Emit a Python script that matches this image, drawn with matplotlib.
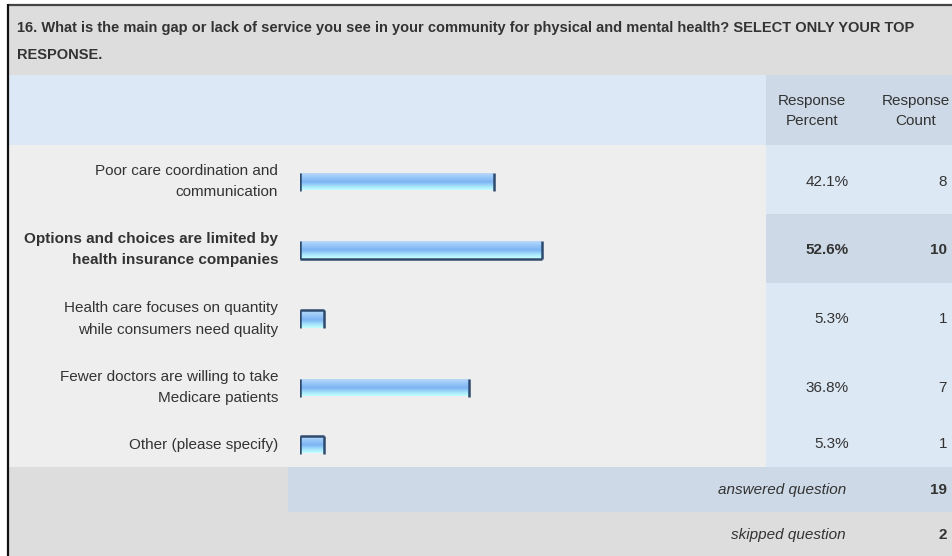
import matplotlib
matplotlib.use("Agg")
import matplotlib.pyplot as plt
from matplotlib.colors import LinearSegmentedColormap
import numpy as np

# ---------------- data ----------------
question = ("16. What is the main gap or lack of service you see in your community for physical and mental health? "
            "SELECT ONLY YOUR TOP\nRESPONSE.")
categories = [
    "Poor care coordination and\ncommunication",
    "Options and choices are limited by\nhealth insurance companies",
    "Health care focuses on quantity\nwhile consumers need quality",
    "Fewer doctors are willing to take\nMedicare patients",
    "Other (please specify)",
]
percents = [42.1, 52.6, 5.3, 36.8, 5.3]
counts = [8, 10, 1, 7, 1]
answered = 19
skipped = 2
header_pct = "Response\nPercent"
header_cnt = "Response\nCount"

# ---------------- layout (pixels) ----------------
W, H = 952, 556
FONT = "Liberation Sans"
TXT = "#333333"
FS = 11
row_tops = [145, 214, 283, 352, 421]
row_bots = [214, 283, 352, 421, 467]
row_centers = [181.5, 249.5, 319, 387.5, 444.5]
max_idx = int(np.argmax(percents))

fig = plt.figure(figsize=(W / 100, H / 100), dpi=100)
fig.patch.set_facecolor("white")
ax = fig.add_axes([0, 0, 1, 1])
ax.set_xlim(0, W)
ax.set_ylim(H, 0)
ax.axis("off")

def rect(x0, y0, x1, y1, c):
    ax.add_patch(plt.Rectangle((x0, y0), x1 - x0, y1 - y0, facecolor=c, edgecolor="none", zorder=0))

L = 9
COLX = 766
# title band
rect(L, 5, W, 75, "#dddddd")
# header
rect(L, 75, COLX, 145, "#dce8f5")
rect(COLX, 75, W, 145, "#cdd9e6")
# data rows
for i, (t, b) in enumerate(zip(row_tops, row_bots)):
    rect(L, t, COLX, b, "#eeeeee")
    rect(COLX, t, W, b, "#cdd9e6" if i == max_idx else "#dde8f5")
# footer
rect(L, 467, 288, 512, "#dddddd")
rect(288, 467, W, 512, "#cdd9e6")
rect(L, 512, W, H, "#dddddd")
# borders
ax.plot([L - 1, W], [4.5, 4.5], color="#444444", lw=1.6, zorder=5, solid_capstyle="butt")
ax.plot([8, 8], [4, H], color="#111111", lw=1.6, zorder=5, solid_capstyle="butt")

# title
ax.text(17, 41.5, question, ha="left", va="center", fontsize=10.5, fontweight="bold",
        family=FONT, color=TXT, linespacing=2.1)

# header
ax.text(812, 111, header_pct, ha="center", va="center", fontsize=FS, family=FONT, color=TXT, linespacing=1.55)
ax.text(950, 111, header_cnt, ha="right", va="center", multialignment="center", fontsize=FS,
        family=FONT, color=TXT, linespacing=1.55)

# rows
for i, (lab, p, c, yc) in enumerate(zip(categories, percents, counts, row_centers)):
    w = "bold" if i == max_idx else "normal"
    ax.text(278, yc, lab, ha="right", va="center", fontsize=FS, family=FONT, color=TXT,
            linespacing=1.7, fontweight=w)
    ax.text(849, yc, f"{p:.1f}%", ha="right", va="center", fontsize=FS, family=FONT, color=TXT, fontweight=w)
    ax.text(947, yc, f"{c}", ha="right", va="center", fontsize=FS, family=FONT, color=TXT, fontweight=w)

ax.text(846, 490, "answered question", ha="right", va="center", fontsize=FS, family=FONT,
        style="italic", color=TXT)
ax.text(947, 490, f"{answered}", ha="right", va="center", fontsize=FS, family=FONT, color=TXT, fontweight="bold")
ax.text(846, 535, "skipped question", ha="right", va="center", fontsize=FS, family=FONT,
        style="italic", color=TXT)
ax.text(947, 535, f"{skipped}", ha="right", va="center", fontsize=FS, family=FONT, color=TXT, fontweight="bold")

# ---------------- bars ----------------
axb = fig.add_axes([300 / W, 0, 460 / W, 1])
axb.set_xlim(0, 100)
axb.set_ylim(H, 0)
axb.axis("off")
axb.patch.set_alpha(0)

cmap = LinearSegmentedColormap.from_list(
    "bar", [(0, "#c2dcfa"), (0.25, "#9ccaf9"), (0.55, "#7cb4f2"), (0.8, "#a6e4fb"), (1, "#c4ffff")])
grad = np.linspace(0, 1, 64).reshape(-1, 1)
bh = 18
bars = axb.barh(row_centers, percents, height=bh, color="none", edgecolor="none")
edge = "#2e4b6e"
for i, (bar, p, yc) in enumerate(zip(bars, percents, row_centers)):
    im = axb.imshow(grad, cmap=cmap, aspect="auto", extent=[0, p, yc + bh / 2, yc - bh / 2],
                    origin="upper", zorder=2)
    im.set_clip_path(bar)
    axb.vlines([0, p], yc - bh / 2, yc + bh / 2, colors=edge, lw=1.8, zorder=3)
    if i == max_idx:
        axb.hlines(yc + bh / 2, 0, p, colors=edge, lw=1.8, zorder=3)
    if p < 10:
        axb.hlines(yc - bh / 2, 0, p, colors=edge, lw=1.8, zorder=3)
axb.set_xlim(0, 100)
axb.set_ylim(H, 0)

fig.savefig("out.png", dpi=100, facecolor="white")
